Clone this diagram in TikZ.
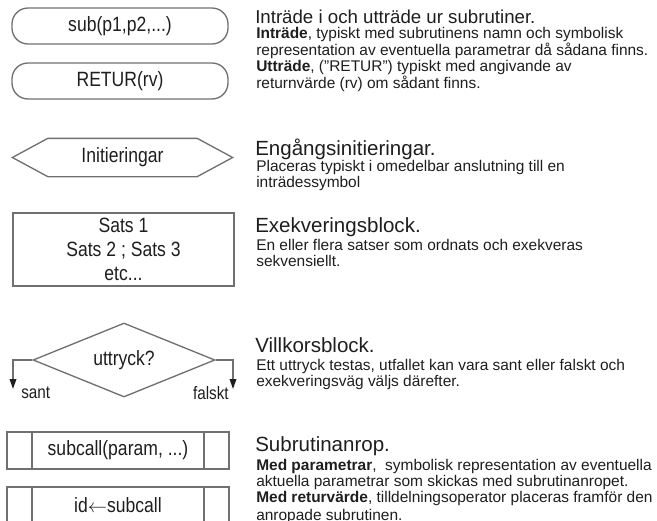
\documentclass[tikz,border=0pt]{standalone}
\usepackage{fontspec}
\setmainfont{Liberation Sans}
\newfontfamily\narrowfont[FakeStretch=0.85]{Liberation Sans}
\usepackage{xcolor}
\usepackage{tikz}
\usetikzlibrary{shapes.geometric,arrows.meta,positioning}
\definecolor{linegray}{RGB}{112,112,112}
\definecolor{inkgray}{RGB}{30,30,30}

\begin{document}
\begin{tikzpicture}[x=0.75pt,y=-0.75pt,
  every node/.style={text=inkgray},
  symb/.style={draw=linegray,line width=1pt,inner sep=0pt,
    font=\narrowfont\fontsize{15.5}{18}\selectfont},
  entrybox/.style={symb,rounded corners=12pt,minimum width=162pt,minimum height=27pt},
  hexbox/.style={symb,draw=none,minimum width=111pt,minimum height=27.75pt},
  execbox/.style={symb,align=center,minimum width=165.75pt,minimum height=54.75pt},
  condbox/.style={symb,diamond,aspect=2.5,minimum width=136.5pt,minimum height=55.5pt},
  callbox/.style={symb,minimum width=166.5pt,minimum height=27.75pt,
    path picture={\draw[linegray,line width=1pt]
      ([xshift=18.75pt]path picture bounding box.north west) -- ([xshift=18.75pt]path picture bounding box.south west)
      ([xshift=-18.75pt]path picture bounding box.north east) -- ([xshift=-18.75pt]path picture bounding box.south east);}},
  flow/.style={draw=linegray,line width=1pt,-{Triangle[length=7.5pt,width=5pt,color=inkgray]}},
  answer/.style={inner sep=0pt,font=\narrowfont\fontsize{13.5}{15}\selectfont},
  heading/.style={anchor=west,inner sep=0pt,font=\fontsize{15.4}{18}\selectfont},
  desc/.style={anchor=north west,inner sep=0pt,align=left,font=\fontsize{11.6}{12}\selectfont}]

\useasboundingbox (0,0) rectangle (657,521);
\clip (0,0) rectangle (657,521);

\node[entrybox] (sub) at (120,26) {sub(p1,p2,...)};
\node[entrybox] (retur) at (120,81) {RETUR(rv)};

\node[hexbox] (init) at (122.5,157.5) {Initieringar};
\draw[linegray,line width=1pt] (init.north west) -- (init.north east) -- ([xshift=26.6pt]init.east)
  -- (init.south east) -- (init.south west) -- ([xshift=-26.6pt]init.west) -- cycle;

\node[execbox] (exec) at (123.5,249.5) {Sats 1\\Sats 2 ; Sats 3\\etc...};

\node[condbox] (cond) at (124,360) {uttryck?};
\coordinate (santend) at (13,389);
\coordinate (falsktend) at (233,389);
\draw[flow] (cond.west) -| (santend);
\draw[flow] (cond.east) -| (falsktend);
\node[answer,anchor=west] (sant) at ([xshift=6pt,yshift=-3pt]santend) {sant};
\node[answer,anchor=east] (falskt) at ([xshift=-3pt,yshift=-3pt]falsktend) {falskt};

\node[callbox] (call) at (118,450.5) {subcall(param, ...)};
\node[callbox] (callret) at (118,505.5) {id{$\leftarrow$}subcall};

\node[heading,font=\fontsize{14}{16}\selectfont] (t1) at (255,17) {Inträde i och utträde ur subrutiner.};
\node[desc,font=\fontsize{11.6}{10.5}\selectfont] (d1) at (256,27) {\textbf{Inträde}, typiskt med subrutinens namn och symbolisk\\
  representation av eventuella parametrar då sådana finns.\\
  \textbf{Utträde}, ("RETUR") typiskt med angivande av\\
  returnvärde (rv) om sådant finns.};

\node[heading] (t2) at (255,149) {Engångsinitieringar.};
\node[desc] (d2) at (256,160) {Placeras typiskt i omedelbar anslutning till en\\
  inträdessymbol};

\node[heading] (t3) at (255,227) {Exekveringsblock.};
\node[desc] (d3) at (256,239) {En eller flera satser som ordnats och exekveras\\
  sekvensiellt.};

\node[heading] (t4) at (255,345) {Villkorsblock.};
\node[desc] (d4) at (256,359) {Ett uttryck testas, utfallet kan vara sant eller falskt och\\
  exekveringsväg väljs därefter.};

\node[heading] (t5) at (255,446) {Subrutinanrop.};
\node[desc] (d5) at (256,459) {\textbf{Med parametrar},~ symbolisk representation av eventuella\\
  aktuella parametrar som skickas med subrutinanropet.\\
  \textbf{Med returvärde}, tilldelningsoperator placeras framför den\\[1.5pt]
  anropade subrutinen.};
\end{tikzpicture}
\end{document}
